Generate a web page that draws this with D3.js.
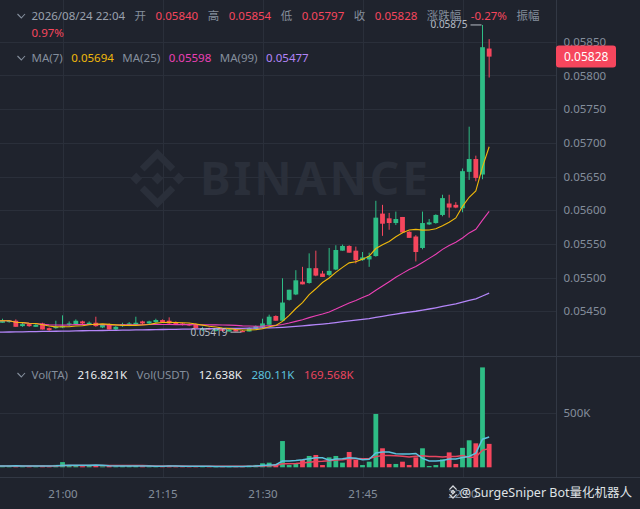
<!DOCTYPE html>
<html>
<head>
<meta charset="utf-8">
<script src="https://cdn.jsdelivr.net/npm/d3@7"></script>
<style>
  html, body { margin: 0; padding: 0; background: #1f232d; }
  svg { display: block; font-family: "Noto Sans", "Noto Sans CJK SC", sans-serif; }
</style>
</head>
<body>
<div id="chart"></div>
<script>
const width = 640;
const height = 509;

// ---------------- data (1 minute candles, first one is 20:50) ----------------
const startTime = "2026-08-24T20:50";

const opens = [
  0.05433, 0.05433, 0.05434, 0.05436, 0.05428, 0.05431, 0.05427, 0.05432, 0.05425, 0.05425,
  0.05426, 0.05430, 0.05431, 0.05435, 0.05431, 0.05433, 0.05426, 0.05431, 0.05423, 0.05428,
  0.05429, 0.05430, 0.05435, 0.05432, 0.05434, 0.05437, 0.05436, 0.05434, 0.05432, 0.05431,
  0.05431, 0.05422, 0.05425, 0.05421, 0.05424, 0.05420, 0.05423, 0.05421, 0.05420, 0.05424,
  0.05426, 0.05430, 0.05443, 0.05436, 0.05467, 0.05475, 0.05494, 0.05492, 0.05514, 0.05506,
  0.05504, 0.05512, 0.05540, 0.05547, 0.05540, 0.05526, 0.05527, 0.05532, 0.05595, 0.05588,
  0.05581, 0.05590, 0.05568, 0.05561, 0.05544, 0.05579, 0.05581, 0.05593, 0.05610, 0.05608,
  0.05603, 0.05657, 0.05676, 0.05653, 0.05840
];
const highs = [
  0.05438, 0.05439, 0.05437, 0.05438, 0.05433, 0.05432, 0.05431, 0.05433, 0.05426, 0.05436,
  0.05444, 0.05435, 0.05438, 0.05436, 0.05435, 0.05442, 0.05431, 0.05432, 0.05428, 0.05433,
  0.05434, 0.05442, 0.05436, 0.05436, 0.05439, 0.05438, 0.05441, 0.05435, 0.05433, 0.05432,
  0.05432, 0.05427, 0.05426, 0.05425, 0.05425, 0.05424, 0.05424, 0.05422, 0.05426, 0.05429,
  0.05439, 0.05445, 0.05444, 0.05499, 0.05482, 0.05511, 0.05516, 0.05536, 0.05540, 0.05510,
  0.05544, 0.05548, 0.05549, 0.05548, 0.05546, 0.05538, 0.05537, 0.05614, 0.05608, 0.05596,
  0.05598, 0.05590, 0.05569, 0.05563, 0.05598, 0.05587, 0.05594, 0.05623, 0.05623, 0.05612,
  0.05662, 0.05724, 0.05681, 0.05875, 0.05854
];
const lows = [
  0.05432, 0.05433, 0.05433, 0.05427, 0.05427, 0.05427, 0.05427, 0.05423, 0.05421, 0.05424,
  0.05425, 0.05428, 0.05430, 0.05431, 0.05430, 0.05427, 0.05425, 0.05423, 0.05422, 0.05427,
  0.05428, 0.05429, 0.05430, 0.05431, 0.05433, 0.05433, 0.05431, 0.05430, 0.05429, 0.05428,
  0.05425, 0.05421, 0.05422, 0.05420, 0.05420, 0.05420, 0.05420, 0.05419, 0.05420, 0.05423,
  0.05425, 0.05429, 0.05436, 0.05436, 0.05466, 0.05474, 0.05490, 0.05491, 0.05502, 0.05501,
  0.05502, 0.05511, 0.05540, 0.05537, 0.05521, 0.05525, 0.05516, 0.05531, 0.05562, 0.05571,
  0.05578, 0.05566, 0.05559, 0.05524, 0.05542, 0.05578, 0.05580, 0.05591, 0.05589, 0.05603,
  0.05597, 0.05645, 0.05643, 0.05646, 0.05797
];
const closes = [
  0.05436, 0.05436, 0.05436, 0.05427, 0.05431, 0.05428, 0.05430, 0.05423, 0.05422, 0.05427,
  0.05428, 0.05432, 0.05436, 0.05432, 0.05433, 0.05428, 0.05430, 0.05423, 0.05427, 0.05431,
  0.05432, 0.05433, 0.05432, 0.05435, 0.05437, 0.05434, 0.05432, 0.05431, 0.05430, 0.05429,
  0.05425, 0.05425, 0.05423, 0.05424, 0.05421, 0.05423, 0.05420, 0.05419, 0.05425, 0.05428,
  0.05432, 0.05442, 0.05436, 0.05463, 0.05482, 0.05496, 0.05490, 0.05514, 0.05503, 0.05501,
  0.05510, 0.05541, 0.05547, 0.05537, 0.05526, 0.05530, 0.05532, 0.05589, 0.05580, 0.05581,
  0.05587, 0.05567, 0.05559, 0.05538, 0.05581, 0.05582, 0.05593, 0.05618, 0.05604, 0.05604,
  0.05658, 0.05676, 0.05648, 0.05842, 0.05828
];
// volume in thousands of TA
const volumes = [
  12, 10, 14, 18, 9, 11, 8, 16, 10, 22,
  48, 15, 18, 10, 12, 20, 9, 14, 8, 10,
  11, 16, 10, 9, 12, 8, 18, 7, 6, 8,
  10, 7, 6, 9, 8, 7, 9, 12, 15, 22,
  37, 43, 31, 243, 21, 40, 68, 105, 114, 21,
  92, 105, 43, 142, 68, 21, 52, 494, 176, 31,
  31, 52, 21, 92, 176, 12, 21, 74, 138, 31,
  180, 250, 222, 925, 216.821
];
// MA(99) (its window reaches back before the visible candles)
const ma99 = [
  0.054190, 0.054192, 0.054193, 0.054195, 0.054196, 0.054198, 0.054199, 0.054201, 0.054203, 0.054204,
  0.054206, 0.054207, 0.054209, 0.054211, 0.054212, 0.054214, 0.054215, 0.054217, 0.054218, 0.054220,
  0.054222, 0.054223, 0.054225, 0.054226, 0.054228, 0.054230, 0.054231, 0.054233, 0.054234, 0.054236,
  0.054238, 0.054239, 0.054241, 0.054242, 0.054244, 0.054245, 0.054247, 0.054248, 0.054250, 0.054251,
  0.054253, 0.054255, 0.054257, 0.054262, 0.054268, 0.054276, 0.054284, 0.054293, 0.054302, 0.054311,
  0.054320, 0.054333, 0.054346, 0.054358, 0.054369, 0.054380, 0.054392, 0.054409, 0.054426, 0.054442,
  0.054459, 0.054475, 0.054489, 0.054501, 0.054518, 0.054534, 0.054552, 0.054572, 0.054591, 0.054610,
  0.054635, 0.054661, 0.054684, 0.054727, 0.054769
];

const priceTicks = [0.0545, 0.0550, 0.0555, 0.0560, 0.0565, 0.0570, 0.0575, 0.0580, 0.0585];
const volumeTicks = [500];
const timeTicks = ["21:00", "21:15", "21:30", "21:45", "22:00"];

const headerItems = [
  ["2026/08/24 22:04", "label2"], ["开", "label"], ["0.05840", "down"],
  ["高", "label"], ["0.05854", "down"], ["低", "label"], ["0.05797", "down"],
  ["收", "label"], ["0.05828", "down"], ["涨跌幅", "label"], ["-0.27%", "down"],
  ["振幅", "label"], ["0.97%", "down"]
];
const maItems = [
  ["MA(7)", "label"], ["0.05694", "ma7"], ["MA(25)", "label"], ["0.05598", "ma25"],
  ["MA(99)", "label"], ["0.05477", "ma99"]
];
const volItems = [
  ["Vol(TA)", "label"], ["216.821K", "white"], ["Vol(USDT)", "label"], ["12.638K", "white"],
  ["280.11K", "vma1"], ["169.568K", "vma2"]
];
const maPeriods = [7, 25];
const volMaPeriods = [7, 14];

// ---------------- styles ----------------
const colors = {
  up: "#2ebd85", down: "#f6465d", label: "#848e9c", label2: "#9aa1ad", white: "#eaecef",
  ma7: "#f0b90b", ma25: "#eb40b5", ma99: "#b385f8", vma1: "#5cc2dd", vma2: "#e8455f",
  grid: "#2a2f3a", sep: "#323844", axis: "#848e9c", mark: "#b7bdc6", water: "#2a2f3a"
};

const paneRight = 556.5;
const mainBottom = 356.5;
const volBottom = 477.5;

// ---------------- scales ----------------
const parseTime = d3.timeParse("%Y-%m-%dT%H:%M");
const t0 = parseTime(startTime);
const times = closes.map((_, i) => d3.timeMinute.offset(t0, i));
const tickDates = timeTicks.map(s => parseTime("2026-08-24T" + s));

const x = d3.scaleTime()
  .domain([parseTime("2026-08-24T21:00"), parseTime("2026-08-24T22:00")])
  .range([62.5, 462.5]);
const y = d3.scaleLinear().domain([0.0545, 0.0585]).range([311.3, 41.8]);
const yv = d3.scaleLinear().domain([0, 500]).range([467.3, 413.3]);

const bodyW = 4.8;
const isUp = i => closes[i] >= opens[i];

function movingAverage(values, n) {
  return values.map((_, i) => d3.mean(values.slice(Math.max(0, i - n + 1), i + 1)));
}

// ---------------- svg ----------------
const svg = d3.select("#chart").append("svg")
  .attr("width", width)
  .attr("height", height)
  .attr("viewBox", [0, 0, width, height]);

svg.append("rect").attr("width", width).attr("height", height).attr("fill", "#1f232d");

const defs = svg.append("defs");
defs.append("clipPath").attr("id", "clipMain")
  .append("rect").attr("x", 0).attr("y", 0).attr("width", paneRight).attr("height", mainBottom);
defs.append("clipPath").attr("id", "clipVol")
  .append("rect").attr("x", 0).attr("y", mainBottom).attr("width", paneRight).attr("height", volBottom - mainBottom);

// grid
const grid = svg.append("g").attr("stroke", colors.grid).attr("stroke-width", 1);
grid.selectAll(".hgrid").data(priceTicks).join("line")
  .attr("x1", 0).attr("x2", paneRight)
  .attr("y1", d => Math.round(y(d)) + 0.5).attr("y2", d => Math.round(y(d)) + 0.5);
grid.selectAll(".vgrid").data(tickDates).join("line")
  .attr("x1", d => Math.round(x(d)) + 0.5).attr("x2", d => Math.round(x(d)) + 0.5)
  .attr("y1", 0).attr("y2", volBottom);
grid.selectAll(".volgrid").data(volumeTicks).join("line")
  .attr("x1", 0).attr("x2", paneRight)
  .attr("y1", d => Math.round(yv(d)) + 0.5).attr("y2", d => Math.round(yv(d)) + 0.5);

// watermark
const wm = svg.append("g").attr("fill", colors.water);
const logo = wm.append("g").attr("transform", "translate(157.5,178.5) scale(29.5)");
const diamond = (cx, r) => `M${cx - r},0L${cx},${-r}L${cx + r},0L${cx},${r}Z`;
logo.append("path").attr("d", diamond(0, 0.2));
logo.append("path").attr("d", diamond(-0.72, 0.2));
logo.append("path").attr("d", diamond(0.72, 0.2));
logo.append("path").attr("d", "M-0.6,-0.4L0,-1L0.6,-0.4L0.44,-0.24L0,-0.68L-0.44,-0.24Z");
logo.append("path").attr("d", "M-0.6,0.4L0,1L0.6,0.4L0.44,0.24L0,0.68L-0.44,0.24Z");
wm.append("text")
  .attr("x", 200).attr("y", 195)
  .attr("font-size", 46).attr("font-weight", 700)
  .attr("textLength", 228).attr("lengthAdjust", "spacing")
  .text("BINANCE");

// separators
const sep = svg.append("g").attr("stroke", colors.sep).attr("stroke-width", 1);
sep.append("line").attr("x1", paneRight).attr("x2", paneRight).attr("y1", 0).attr("y2", volBottom);
sep.append("line").attr("x1", 0).attr("x2", width).attr("y1", mainBottom).attr("y2", mainBottom);
sep.append("line").attr("x1", 0).attr("x2", width).attr("y1", volBottom).attr("y2", volBottom);

// ---------------- candles ----------------
const main = svg.append("g").attr("clip-path", "url(#clipMain)");
const idx = d3.range(closes.length);

main.append("g").selectAll("line").data(idx).join("line")
  .attr("x1", i => x(times[i])).attr("x2", i => x(times[i]))
  .attr("y1", i => y(highs[i])).attr("y2", i => y(lows[i]))
  .attr("stroke", i => isUp(i) ? colors.up : colors.down)
  .attr("stroke-width", 1);

main.append("g").selectAll("rect").data(idx).join("rect")
  .attr("x", i => x(times[i]) - bodyW / 2)
  .attr("width", bodyW)
  .attr("y", i => y(Math.max(opens[i], closes[i])))
  .attr("height", i => Math.max(1, Math.abs(y(opens[i]) - y(closes[i]))))
  .attr("fill", i => isUp(i) ? colors.up : colors.down);

// moving averages
const priceLine = d3.line().x((d, i) => x(times[i])).y(d => y(d));
const ma7 = movingAverage(closes, maPeriods[0]);
const ma25 = movingAverage(closes, maPeriods[1]);
[[ma99, colors.ma99, 1.3], [ma25, colors.ma25, 1.1], [ma7, colors.ma7, 1.1]].forEach(([vals, c, w]) => {
  main.append("path").attr("d", priceLine(vals))
    .attr("fill", "none").attr("stroke", c).attr("stroke-width", w);
});

// high / low markers
function marker(i, price) {
  const cx = x(times[i]);
  const cy = y(price);
  main.append("line").attr("x1", cx - 12).attr("x2", cx - 1).attr("y1", cy).attr("y2", cy)
    .attr("stroke", colors.mark).attr("stroke-width", 1);
  main.append("text").attr("x", cx - 15).attr("y", cy).attr("dy", "0.35em")
    .attr("text-anchor", "end").attr("font-size", 10).attr("fill", colors.mark)
    .text(d3.format(".5f")(price));
}
const hi = d3.maxIndex(highs);
const lo = d3.minIndex(lows);
marker(hi, highs[hi]);
marker(lo, lows[lo]);

// ---------------- volume ----------------
const vol = svg.append("g").attr("clip-path", "url(#clipVol)");
vol.append("g").selectAll("rect").data(idx).join("rect")
  .attr("x", i => x(times[i]) - bodyW / 2)
  .attr("width", bodyW)
  .attr("y", i => yv(volumes[i]))
  .attr("height", i => yv(0) - yv(volumes[i]))
  .attr("fill", i => isUp(i) ? colors.up : colors.down);

const volLine = d3.line().x((d, i) => x(times[i])).y(d => yv(d));
[[movingAverage(volumes, volMaPeriods[1]), colors.vma2], [movingAverage(volumes, volMaPeriods[0]), colors.vma1]]
  .forEach(([vals, c]) => {
    vol.append("path").attr("d", volLine(vals))
      .attr("fill", "none").attr("stroke", c).attr("stroke-width", 1.5);
  });

// ---------------- axes ----------------
const axisFont = g => g.call(s => s.select(".domain").remove())
  .selectAll("text").attr("fill", colors.axis).attr("font-size", 11.5)
  .attr("font-family", "Noto Sans, sans-serif");

svg.append("g").attr("transform", `translate(${paneRight},0)`)
  .call(d3.axisRight(y).tickValues(priceTicks).tickFormat(d3.format(".5f")).tickSize(0).tickPadding(7))
  .call(axisFont);

svg.append("g").attr("transform", `translate(${paneRight},0)`)
  .call(d3.axisRight(yv).tickValues(volumeTicks).tickFormat(d => d + "K").tickSize(0).tickPadding(7))
  .call(axisFont);

svg.append("g").attr("transform", `translate(0,${volBottom})`)
  .call(d3.axisBottom(x).tickValues(tickDates).tickFormat(d3.timeFormat("%H:%M")).tickSize(0).tickPadding(12))
  .call(axisFont);

// current price tag
const last = closes.length - 1;
const tag = svg.append("g").attr("transform", `translate(${paneRight - 0.5},${y(closes[last])})`);
tag.append("rect").attr("x", 0).attr("y", -11).attr("width", 60).attr("height", 22).attr("rx", 3)
  .attr("fill", colors.down);
tag.append("text").attr("x", 8).attr("dy", "0.35em").attr("font-size", 12).attr("fill", "#ffffff")
  .text(d3.format(".5f")(closes[last]));

// ---------------- legends ----------------
function chevron(cy) {
  svg.append("path").attr("d", `M17.5,${cy - 2}L21.3,${cy + 2}L25,${cy - 2}`)
    .attr("fill", "none").attr("stroke", colors.label).attr("stroke-width", 1.1);
}
function flow(items, baseY, gap, lineH) {
  let cx = 31.5, cy = baseY;
  items.forEach(([txt, key]) => {
    const t = svg.append("text").attr("x", cx).attr("y", cy)
      .attr("font-size", 11.5).attr("fill", colors[key]).text(txt);
    let w = t.node().getComputedTextLength();
    if (cx + w > 545) {
      cx = 31.5; cy += lineH;
      t.attr("x", cx).attr("y", cy);
    }
    cx += w + gap;
  });
}
chevron(16);
flow(headerItems, 19.8, 9.5, 17);
chevron(58);
flow(maItems, 62.2, 8.5, 17);
chevron(375);
flow(volItems, 379, 9.5, 17);

// footer
const foot = svg.append("g");
const fl = foot.append("g").attr("transform", "translate(453,492) scale(6)")
  .attr("fill", "none").attr("stroke", "#d5d8dc").attr("stroke-width", 0.22);
fl.append("path").attr("d", "M-0.6,-0.4L0,-1L0.6,-0.4");
fl.append("path").attr("d", "M-0.6,0.4L0,1L0.6,0.4");
fl.append("path").attr("d", diamond(0, 0.28));
foot.append("text").attr("x", 632).attr("y", 496.5).attr("text-anchor", "end")
  .attr("font-size", 12.5).attr("fill", "#dfe2e6")
  .text("@ SurgeSniper Bot量化机器人");
</script>
</body>
</html>
